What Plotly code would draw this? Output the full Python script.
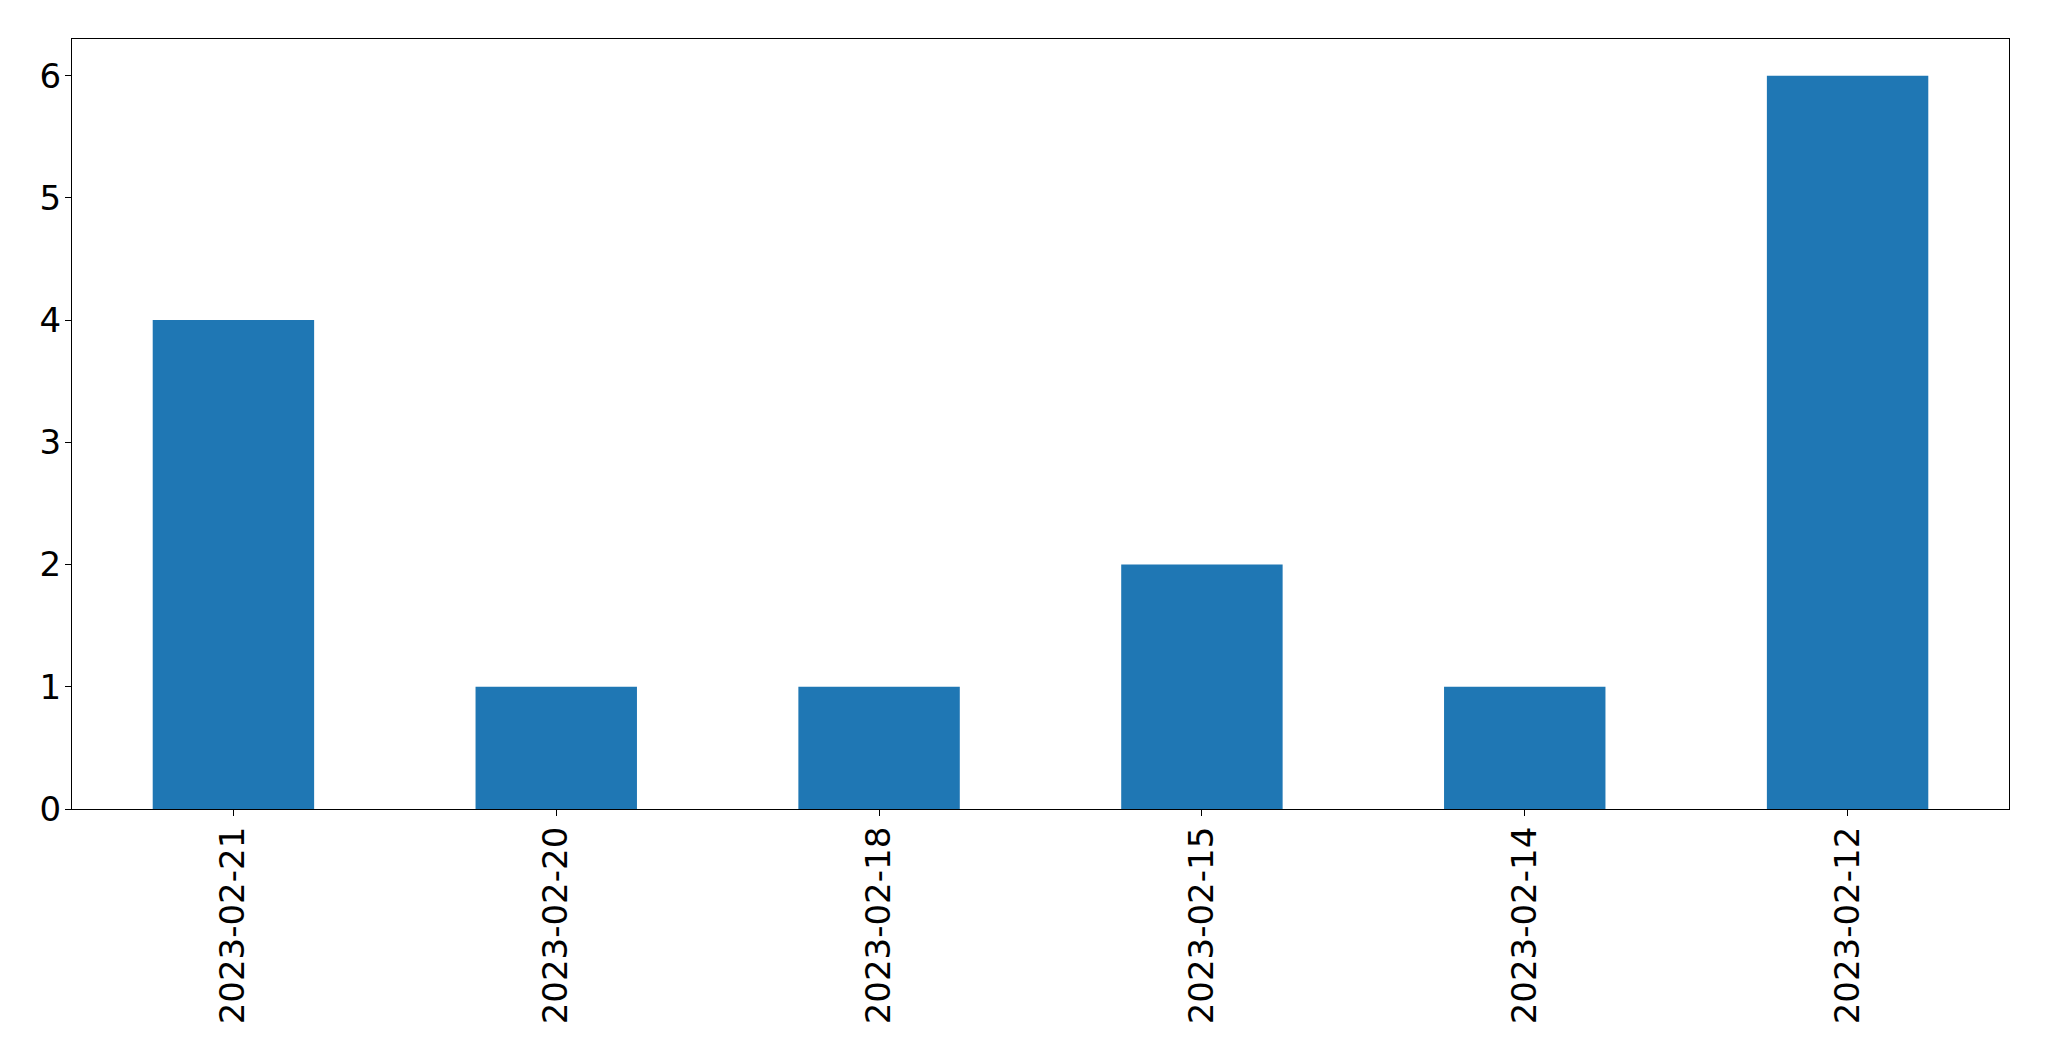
import plotly.graph_objects as go

dates = ["2023-02-21", "2023-02-20", "2023-02-18", "2023-02-15", "2023-02-14", "2023-02-12"]
counts = [4, 1, 1, 2, 1, 6]
y_ticks = [0, 1, 2, 3, 4, 5, 6]

fig = go.Figure(go.Bar(x=dates, y=counts, marker=dict(color="#1f77b4", line=dict(width=0)), width=0.5))

axis_common = dict(
    showline=True, linecolor="black", linewidth=1.3, mirror=True,
    ticks="outside", ticklen=6, tickwidth=1.3, tickcolor="black",
    showgrid=False, zeroline=False, automargin=False,
    tickfont=dict(family="DejaVu Sans", size=34, color="black"),
    ticklabelstandoff=-3,
)

fig.update_layout(
    width=2049, height=1061,
    margin=dict(l=64, r=48, t=31, b=260, pad=0),
    plot_bgcolor="white", paper_bgcolor="white",
    showlegend=False,
    xaxis=dict(type="category", range=[-0.5, 5.5], tickangle=-90, **axis_common),
    yaxis=dict(range=[0, 6.3], tickvals=y_ticks, **axis_common),
)

fig.write_html("out.html")
